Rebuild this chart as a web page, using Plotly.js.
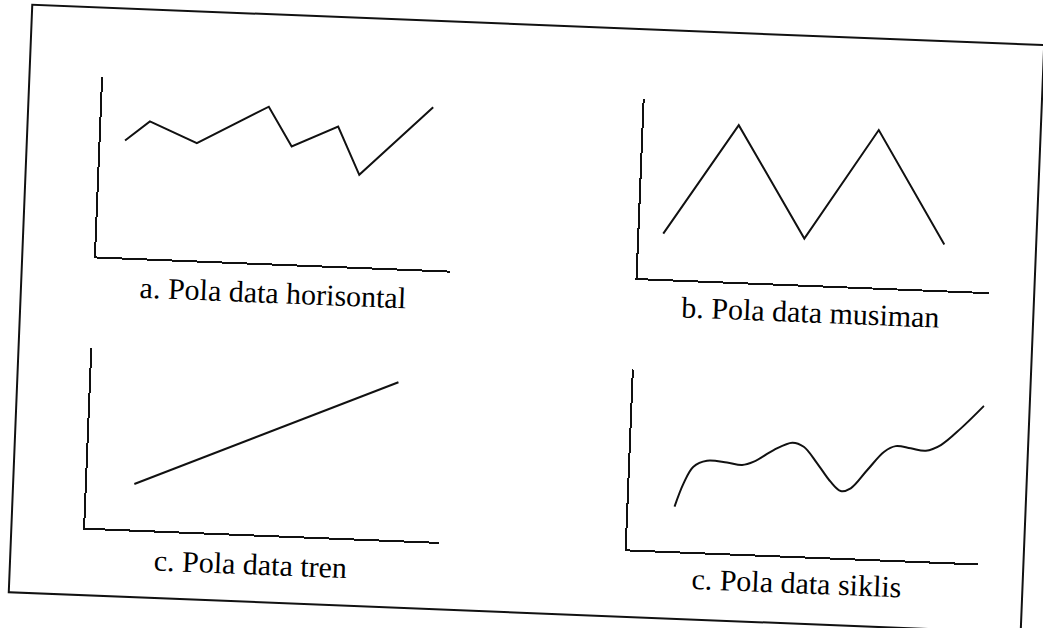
<!DOCTYPE html>
<html>
<head>
<meta charset="utf-8">
<script src="https://cdn.plot.ly/plotly-3.0.1.min.js"></script>
<style>
  html, body { margin: 0; padding: 0; background: #ffffff; overflow: hidden; }
  #chart { width: 1043px; height: 628px; transform: rotate(2.29deg); transform-origin: 50% 50%; }
</style>
</head>
<body>
<div id="chart"></div>
<script>
// a. Horizontal pattern
const horizX = [0.69, 1.37, 2.72, 4.71, 5.40, 6.69, 7.34, 9.35];
const horizY = [6.52, 7.64, 6.53, 8.72, 6.56, 7.77, 5.13, 9.06];

// b. Seasonal pattern
const seasonX = [0.68, 2.70, 4.69, 6.68, 8.67];
const seasonY = [2.53, 8.74, 2.57, 8.78, 2.55];

// c. Trend pattern
const trendX = [1.34, 8.68];
const trendY = [2.54, 8.77];

// d. Cyclical pattern
const cycleX = [1.31, 1.54, 1.80, 2.18, 2.75, 3.18, 3.51, 4.06, 4.58, 4.91, 5.31,
                5.71, 6.01, 6.29, 6.74, 7.20, 7.52, 7.95, 8.38, 8.80, 9.35, 9.98];
const cycleY = [2.48, 3.79, 4.74, 5.10, 5.04, 4.94, 5.15, 5.84, 6.29, 6.09, 5.20,
                4.21, 3.72, 3.89, 4.94, 5.99, 6.33, 6.24, 6.14, 6.49, 7.46, 8.76];

const panelLabels = [
  "a. Pola data horisontal",
  "b. Pola data musiman",
  "c. Pola data tren",
  "c. Pola data siklis"
];

const W = 1043, H = 628;
const ink = '#111111';
const px = v => v / W;
const py = v => 1 - v / H;

const lineStyle = { color: ink, width: 2 };

const traces = [
  { x: horizX, y: horizY, xaxis: 'x',  yaxis: 'y',  mode: 'lines', line: lineStyle, hoverinfo: 'skip' },
  { x: seasonX, y: seasonY, xaxis: 'x2', yaxis: 'y2', mode: 'lines', line: lineStyle, hoverinfo: 'skip' },
  { x: trendX, y: trendY, xaxis: 'x3', yaxis: 'y3', mode: 'lines', line: lineStyle, hoverinfo: 'skip' },
  { x: cycleX, y: cycleY, xaxis: 'x4', yaxis: 'y4', mode: 'lines',
    line: Object.assign({ shape: 'spline', smoothing: 1 }, lineStyle), hoverinfo: 'skip' }
];

function axis(domain, anchor) {
  return {
    domain: domain, anchor: anchor, range: [0, 10],
    showline: true, linecolor: ink, linewidth: 2,
    showgrid: false, zeroline: false, showticklabels: false, ticks: '',
    fixedrange: true
  };
}

const xLeft = [px(94), px(448)];
const xRight = [px(636), px(988)];
const yTop = [py(273.5), py(94)];
const yBottom = [py(545), py(365)];

const labelPos = [[272.7, 302], [810, 300], [260.5, 574], [807, 571]];

const layout = {
  width: W, height: H,
  margin: { l: 0, r: 0, t: 0, b: 0 },
  paper_bgcolor: '#ffffff', plot_bgcolor: 'rgba(0,0,0,0)',
  showlegend: false,
  xaxis: axis(xLeft, 'y'),   yaxis: axis(yTop, 'x'),
  xaxis2: axis(xRight, 'y2'), yaxis2: axis(yTop, 'x2'),
  xaxis3: axis(xLeft, 'y3'),  yaxis3: axis(yBottom, 'x3'),
  xaxis4: axis(xRight, 'y4'), yaxis4: axis(yBottom, 'x4'),
  annotations: panelLabels.map((t, i) => ({
    text: t, xref: 'paper', yref: 'paper',
    x: px(labelPos[i][0]), y: py(labelPos[i][1]),
    xanchor: 'center', yanchor: 'middle', showarrow: false,
    font: { family: 'Liberation Serif, Times New Roman, serif', size: 30, color: '#000000' }
  })),
  shapes: [{
    type: 'rect', xref: 'paper', yref: 'paper',
    x0: px(20.3), x1: px(1033), y0: py(612.5), y1: py(24.5),
    line: { color: ink, width: 2 }
  }]
};

Plotly.newPlot('chart', traces, layout, { staticPlot: true, displayModeBar: false });
</script>
</body>
</html>
